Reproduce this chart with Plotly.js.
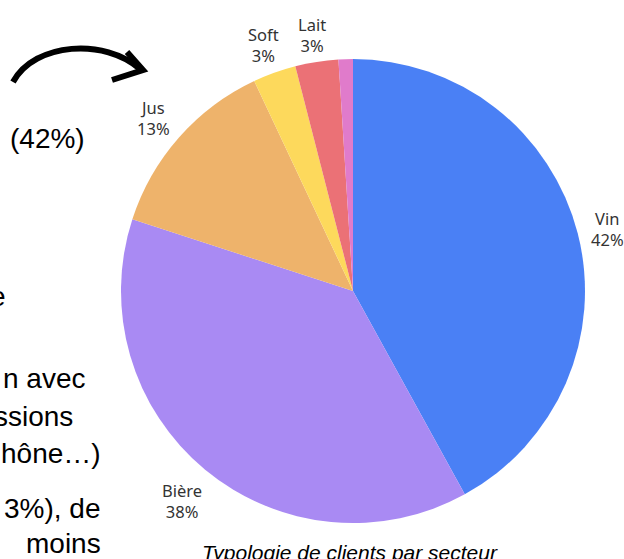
<!DOCTYPE html>
<html>
<head>
<meta charset="utf-8">
<script src="https://cdn.plot.ly/plotly-3.0.1.min.js"></script>
<style>html,body{margin:0;padding:0;background:#fff;}#chart{width:624px;height:559px;}</style>
</head>
<body>
<div id="chart"></div>
<script>
// Data
const sectors = ["Vin", "Bière", "Jus", "Soft", "Lait", "Autres"];
const shares = [42, 38, 13, 3, 3, 1];
const showLabel = [true, true, true, true, true, false];
const sliceColors = ["#4A80F5", "#A98AF3", "#EEB36B", "#FDD95C", "#EB7176", "#E07BCB"];
const caption = "Typologie de clients par secteur";
const sideText = ["(42%)", "e", "n avec", "ssions", "hône…)", "3%), de", "moins"];

const W = 624, H = 559;
const fx = x => x / W;
const fy = y => 1 - y / H;
const P = (x, y) => fx(x).toFixed(5) + "," + fy(y).toFixed(5);

// pie geometry (pixels)
const cx = 353, cy = 291, r = 232;

const trace = {
  type: "pie",
  labels: sectors,
  values: shares,
  sort: false,
  direction: "clockwise",
  rotation: 0,
  marker: { colors: sliceColors, line: { width: 0 } },
  textinfo: "none",
  hoverinfo: "none",
  automargin: false,
  domain: { x: [fx(cx - r), fx(cx + r)], y: [fy(cy + r), fy(cy - r)] }
};

// outside labels placed along each slice's mid-angle (derived from the values)
const labelFont = { family: "Noto Sans, Lato, sans-serif", size: 16.5, color: "#333333" };
const ctx = document.createElement("canvas").getContext("2d");
ctx.font = labelFont.size + "px " + labelFont.family;
const total = shares.reduce((a, b) => a + b, 0);
const annotations = [];
let cum = 0;
shares.forEach((v, i) => {
  const theta = 2 * Math.PI * (cum + v / 2) / total;
  cum += v;
  if (!showLabel[i]) return;
  const pct = Math.round(100 * v / total) + "%";
  const w = Math.max(ctx.measureText(sectors[i]).width, ctx.measureText(pct).width);
  const h = 36;
  const s = Math.sin(theta), c = Math.cos(theta);
  const d = r + 10 + Math.abs(s) * w / 2 + Math.abs(c) * h / 2;
  annotations.push({
    text: sectors[i] + "<br>" + pct,
    xref: "paper", yref: "paper",
    x: fx(cx + d * s), y: fy(cy - d * c + 3),
    xanchor: "center", yanchor: "middle",
    showarrow: false, align: "center",
    font: labelFont
  });
});

const sidePos = [
  { x: 87, y: 138 },
  { x: 8, y: 296 },
  { x: 88, y: 378 },
  { x: 75, y: 416 },
  { x: 103, y: 453 },
  { x: 103, y: 508 },
  { x: 103, y: 543 }
];

sideText.forEach((t, i) => annotations.push({
  text: t,
  xref: "paper", yref: "paper",
  x: fx(sidePos[i].x), y: fy(sidePos[i].y),
  xanchor: "right", yanchor: "middle",
  showarrow: false,
  font: { family: "Liberation Sans, Arial, sans-serif", size: 28, color: "#000" }
}));

annotations.push({
  text: "<i>" + caption + "</i>",
  xref: "paper", yref: "paper",
  x: fx(350), y: fy(552),
  xanchor: "center", yanchor: "middle",
  showarrow: false,
  font: { family: "Liberation Sans, Arial, sans-serif", size: 21, color: "#000" }
});

const shapes = [
  {
    type: "path", xref: "paper", yref: "paper",
    path: "M" + P(13, 82) + " C" + P(35, 42) + " " + P(105, 38) + " " + P(140, 69),
    line: { color: "#000", width: 6 }
  },
  {
    type: "path", xref: "paper", yref: "paper",
    path: "M" + P(127, 52) + " L" + P(143, 70) + " L" + P(112, 80),
    line: { color: "#000", width: 6 }
  }
];

const layout = {
  width: W, height: H,
  margin: { l: 0, r: 0, t: 0, b: 0 },
  paper_bgcolor: "#fff",
  showlegend: false,
  annotations: annotations,
  shapes: shapes
};

Plotly.newPlot("chart", [trace], layout, { displayModeBar: false, staticPlot: true });
</script>
</body>
</html>
